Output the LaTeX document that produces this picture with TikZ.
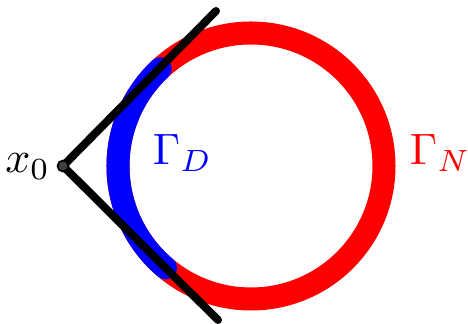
\documentclass[tikz,border=0pt]{standalone}
\begin{document}
\begin{tikzpicture}[x=0.2277pt,y=0.2277pt,
  ring/.style={line width=5.24pt},
  ray/.style={line width=1.82pt, line cap=round, black},
  lab/.style={inner sep=0pt}]
\useasboundingbox (0,0) rectangle (468,324);
\coordinate (c) at (251,158);
\coordinate (t1) at (216,313);
\coordinate (t2) at (218,4);
\draw[ring, red] (c) circle[radius=133];
\draw[ring, blue, line cap=round] ([shift={(133:133)}]c) arc[start angle=133, end angle=230, radius=133];
\coordinate (x0) at (63,158);
\draw[ray] (x0) -- (t1);
\draw[ray] (x0) -- (t2);
\node[circle, fill=black!75, draw=black, line width=0.4pt, inner sep=0pt, minimum size=2.5pt] (dot) at (x0) {};
\node[lab, anchor=base east] (lx) at (51,151) {$x_0$};
\node[lab, anchor=base west, text=blue] (gd) at (152,159) {$\Gamma_D$};
\node[lab, anchor=base west, text=red] (gn) at (409,159) {$\Gamma_N$};
\end{tikzpicture}
\end{document}
